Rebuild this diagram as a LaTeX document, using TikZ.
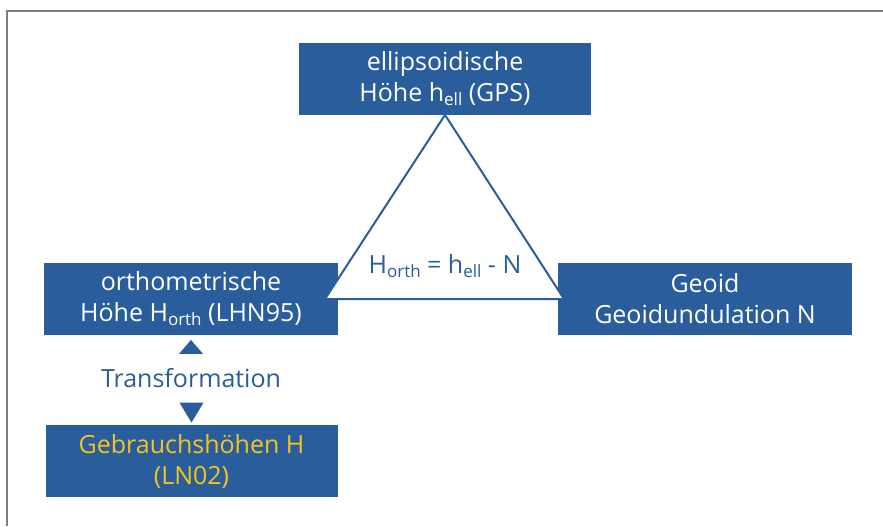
\documentclass[tikz,border=0pt]{standalone}
\usepackage{fontspec}
\setmainfont{Open Sans}
\usepackage{tikz}
\usetikzlibrary{calc}

\definecolor{boxblue}{RGB}{42,93,155}
\definecolor{hgold}{RGB}{246,196,30}
\definecolor{framegray}{RGB}{125,125,125}

\newcommand{\idx}[1]{\raisebox{-0.35ex}{\fontsize{8.5}{8.5}\selectfont #1}}

\tikzset{
  hbox/.style={fill=boxblue, text=white, align=center, inner sep=0pt,
    minimum width=146pt, minimum height=36pt,
    font=\fontsize{12.5}{15.5}\selectfont},
  bluetext/.style={text=boxblue, font=\fontsize{12.5}{15.5}\selectfont}
}

\begin{document}
\begin{tikzpicture}[x=0.5pt,y=-0.5pt]
    \useasboundingbox (0,0) rectangle (883,526);
    \draw[framegray,line width=1pt] (7,526) -- (7,11) -- (883,11);
    %
    \node[hbox] (ell) at (445,78.5) {ellipsoidische\\H\"ohe h\idx{ell} (GPS)};
    \node[hbox,minimum width=147pt] (orth) at (191,298.5) {orthometrische\\H\"ohe H\idx{orth} (LHN95)};
    \node[hbox,minimum width=147pt] (geoid) at (705,298.5) {Geoid\\Geoidundulation N};
    \node[hbox,text=hgold] (use) at (191.5,461) {Gebrauchsh\"ohen H\\(LN02)};
    %
    \coordinate (tl) at (325,299);
    \coordinate (tr) at (564,299);
    \draw[boxblue,fill=white,line width=1pt,line join=miter] (ell.south) -- (tl) -- (tr) -- cycle;
    \node[bluetext] (eq) at (445,266) {H\idx{orth} = h\idx{ell} - N};
    %
    \node[bluetext] (trans) at (191,378) {Transformation};
    \fill[boxblue] ($(orth.south)+(0,5)$) -- ++(12,14) -- ++(-24,0) -- cycle;
    \fill[boxblue] ($(use.north)+(0,-2)$) -- ++(12,-20) -- ++(-24,0) -- cycle;
  \end{tikzpicture}
\end{document}
